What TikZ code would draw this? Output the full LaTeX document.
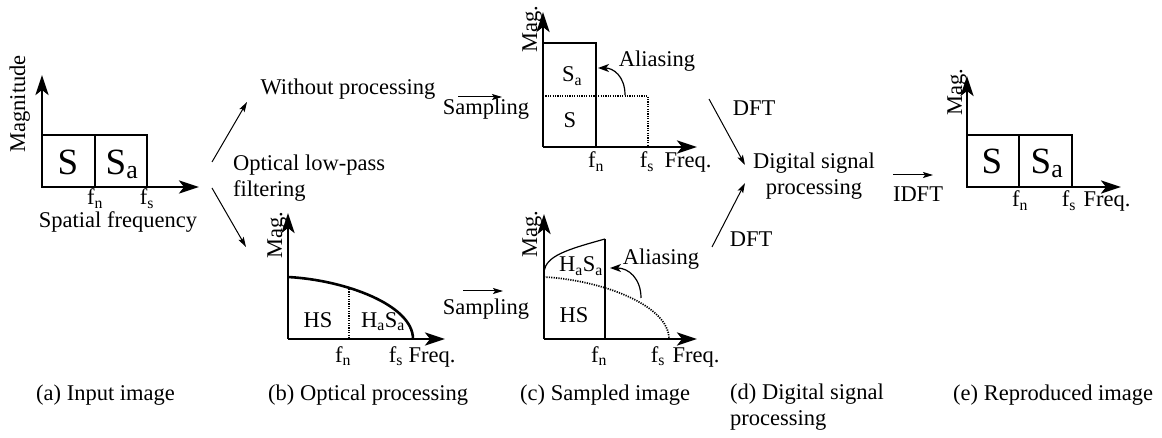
\documentclass[tikz,border=0pt]{standalone}
\usepackage{fontspec}
\setmainfont{Liberation Serif}
\usetikzlibrary{arrows.meta}

\begin{document}
\begin{tikzpicture}[x=1pt,y=-1pt,
    font=\fontsize{22.5}{26}\selectfont,
    axarrow/.style={-{Stealth[length=20pt,width=13pt,inset=5pt]}, line width=2.6pt},
    boxline/.style={line width=2.6pt},
    dotline/.style={line width=1.7pt, dash pattern=on 1.2pt off 1.2pt},
    flowarr/.style={-{Stealth[length=10pt,width=6pt,inset=2pt]}, line width=1pt},
    aliasarr/.style={-{Stealth[length=11pt,width=8pt,inset=3pt]}, line width=1.2pt},
    txt/.style={anchor=base, inner sep=0pt},
    bigtxt/.style={txt, font=\fontsize{37}{40}\selectfont},
    maglbl/.style={anchor=base, inner sep=0pt, rotate=90},
    caption/.style={anchor=base west, inner sep=0pt, align=left}
]
\useasboundingbox (0,0) rectangle (1162,438);

% (a) input image
\draw[boxline] (42,135) rectangle (147,187);
\draw[boxline] (95,135) -- (95,187);
\draw[axarrow] (42,187) -- (42,75);
\draw[axarrow] (42,187) -- (199,187);
\node[bigtxt] (aS) at (68,175) {S};
\node[bigtxt] (aSa) at (122,175) {S\textsubscript{a}};
\node[maglbl] (aMag) at (25,104) {Magnitude};
\node[txt] (afn) at (95,205) {f\textsubscript{n}};
\node[txt] (afs) at (147,205) {f\textsubscript{s}};
\node[txt] (aspat) at (118,228) {Spatial frequency};

% branches
\node[txt] (wo) at (348,95) {Without processing};
\node[caption] (olp) at (233,197) {Optical low-pass\\filtering};
\coordinate (aout1) at (212,162);
\coordinate (woin) at (247,102);
\coordinate (aout2) at (212,188);
\coordinate (bin) at (246,247);
\draw[flowarr] (aout1) -- (woin);
\draw[flowarr] (aout2) -- (bin);

% (b) optical processing
\draw[boxline] (288,277) .. controls (345,280) and (413,305) .. (413,339);
\draw[dotline] (349,289) -- (349,339);
\draw[axarrow] (288,339) -- (288,213);
\draw[axarrow] (288,339) -- (445,339);
\node[maglbl] (bMag) at (282,235) {Mag.};
\node[txt] (bHS) at (318,327) {HS};
\node[txt] (bHaSa) at (383,327) {H\textsubscript{a}S\textsubscript{a}};
\node[txt] (bfn) at (343,362) {f\textsubscript{n}};
\node[txt] (bfs) at (396,362) {f\textsubscript{s}};
\node[txt] (bfreq) at (432,362) {Freq.};

% sampling
\node[txt] (samp1) at (486,115) {Sampling};
\node[txt] (samp2) at (486,315) {Sampling};
\coordinate (s1a) at (458,97);
\coordinate (s1b) at (502,97);
\coordinate (s2a) at (463,291);
\coordinate (s2b) at (503,291);
\draw[flowarr] (s1a) -- (s1b);
\draw[flowarr] (s2a) -- (s2b);

% (c) sampled image, without processing
\draw[dotline] (543,96) -- (648,96) -- (648,147);
\draw[boxline] (543,43) -- (596,43) -- (596,147);
\draw[axarrow] (543,147) -- (543,12);
\draw[axarrow] (543,147) -- (697,147);
\node[maglbl] (cMag) at (537,29) {Mag.};
\node[txt] (cSa) at (572,82) {S\textsubscript{a}};
\node[txt] (cS) at (570,128) {S};
\node[txt] (cal) at (657,67) {Aliasing};
\node[txt] (cfn) at (596,168) {f\textsubscript{n}};
\node[txt] (cfs) at (647,168) {f\textsubscript{s}};
\node[txt] (cfreq) at (688,168) {Freq.};
\coordinate (cfold) at (625,95);
\coordinate (cfoldend) at (598,68);
\draw[aliasarr] (cfold) .. controls (625,76) and (613,68) .. (cfoldend);

% (c) sampled image, after filtering
\draw[dotline] (544,277) .. controls (601,280) and (669,305) .. (669,339);
\draw[line width=1.2pt] (544,271) .. controls (547,256) and (565,250) .. (605,239);
\draw[line width=1.7pt] (605,239) -- (605,339);
\draw[axarrow] (544,339) -- (544,214);
\draw[axarrow] (544,339) -- (697,339);
\node[maglbl] (dMag) at (537,234) {Mag.};
\node[txt] (dHaSa) at (581,272) {H\textsubscript{a}S\textsubscript{a}};
\node[txt] (dHS) at (574,323) {HS};
\node[txt] (dal) at (661,265) {Aliasing};
\node[txt] (dfn) at (599,362) {f\textsubscript{n}};
\node[txt] (dfs) at (658,362) {f\textsubscript{s}};
\node[txt] (dfreq) at (696,362) {Freq.};
\coordinate (dfold) at (641,298);
\coordinate (dfoldend) at (610,268);
\draw[aliasarr] (dfold) .. controls (641,278) and (628,268) .. (dfoldend);

% (d) digital signal processing
\node[txt] (dft1) at (754,116) {DFT};
\node[txt] (dft2) at (751,247) {DFT};
\node[txt, align=center] (dsp) at (814,195) {Digital signal\\processing};
\coordinate (c1out) at (709,99);
\coordinate (dspin1) at (745,165);
\coordinate (c2out) at (712,247);
\coordinate (dspin2) at (745,183);
\draw[flowarr] (c1out) -- (dspin1);
\draw[flowarr] (c2out) -- (dspin2);
\node[txt] (idft) at (918,202) {IDFT};
\coordinate (dspout) at (893,175);
\coordinate (ein) at (933,175);
\draw[flowarr] (dspout) -- (ein);

% (e) reproduced image
\draw[boxline] (967,135) rectangle (1072,187);
\draw[boxline] (1019,135) -- (1019,187);
\draw[axarrow] (967,187) -- (967,76);
\draw[axarrow] (967,187) -- (1121,187);
\node[bigtxt] (eS) at (992,174) {S};
\node[bigtxt] (eSa) at (1047,174) {S\textsubscript{a}};
\node[maglbl] (eMag) at (962,92) {Mag.};
\node[txt] (efn) at (1020,207) {f\textsubscript{n}};
\node[txt] (efs) at (1069,207) {f\textsubscript{s}};
\node[txt] (efreq) at (1107,207) {Freq.};

% captions
\node[caption] (capa) at (36,400) {(a) Input image};
\node[caption] (capb) at (268,400) {(b) Optical processing};
\node[caption] (capc) at (520,400) {(c) Sampled image};
\node[caption] (capd) at (730,425) {(d) Digital signal\\processing};
\node[caption] (cape) at (953,400) {(e) Reproduced image};

\end{tikzpicture}
\end{document}
